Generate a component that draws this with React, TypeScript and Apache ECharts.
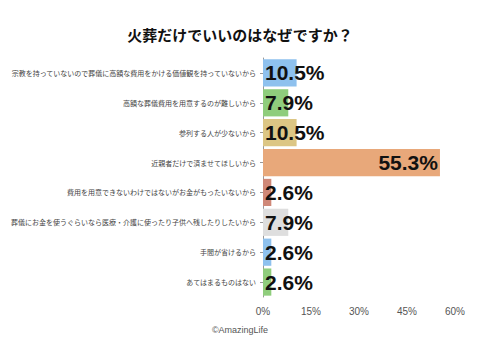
import React, { useEffect, useRef } from "react";
import * as echarts from "echarts";

const categories = [
  "宗教を持っていないので葬儀に高額な費用をかける価値観を持っていないから",
  "高額な葬儀費用を用意するのが難しいから",
  "参列する人が少ないから",
  "近親者だけで済ませてほしいから",
  "費用を用意できないわけではないがお金がもったいないから",
  "葬儀にお金を使うぐらいなら医療・介護に使ったり子供へ残したりしたいから",
  "手間が省けるから",
  "あてはまるものはない",
];
const values = [10.5, 7.9, 10.5, 55.3, 2.6, 7.9, 2.6, 2.6];
const colors = ["#8ec1ee", "#8fcd7c", "#dcc684", "#e8a87a", "#cf8878", "#dedede", "#8ec1ee", "#8fcd7c"];
const xTicks = [0, 15, 30, 45, 60];

export default function App() {
  const ref = useRef<HTMLDivElement>(null);
  useEffect(() => {
    const chart = echarts.init(ref.current!, null, { renderer: "svg" });
    chart.setOption({
      animation: false,
      backgroundColor: "#fff",
      title: {
        text: "火葬だけでいいのはなぜですか？",
        left: "center",
        top: 22,
        textStyle: { fontSize: 15, fontWeight: "bold", color: "#111", fontFamily: "Noto Sans CJK JP" },
      },
      graphic: [
        {
          type: "text",
          left: "center",
          top: 325,
          style: { text: "©AmazingLife", fontSize: 9, fill: "#555", fontFamily: "Liberation Sans" },
        },
      ],
      grid: { left: 263, right: 25, top: 58, bottom: 63 },
      xAxis: {
        type: "value",
        min: xTicks[0],
        max: xTicks[xTicks.length - 1],
        interval: 15,
        axisLine: { show: false },
        axisTick: { show: false },
        splitLine: { show: false },
        axisLabel: { formatter: "{value}%", color: "#555", fontSize: 10, margin: 9, fontFamily: "Liberation Sans" },
      },
      yAxis: {
        type: "category",
        inverse: true,
        data: categories,
        axisLine: { show: true, lineStyle: { color: "#999", width: 1 } },
        axisTick: { show: true, alignWithLabel: true, length: 3, lineStyle: { color: "#999" } },
        axisLabel: { color: "#444", fontSize: 7, margin: 7, fontFamily: "Noto Sans CJK JP" },
      },
      series: [
        {
          type: "bar",
          barCategoryGap: "9%",
          data: values.map((v, i) => ({
            value: v,
            itemStyle: { color: colors[i] },
            label: { position: v > 30 ? "insideRight" : "insideLeft" },
          })),
          label: {
            show: true,
            formatter: "{c}%",
            color: "#111",
            fontSize: 21,
            fontWeight: "bold",
            fontFamily: "Liberation Sans",
            distance: 2,
          },
        },
      ],
    });
    return () => chart.dispose();
  }, []);
  return <div ref={ref} style={{ width: 480, height: 360, position: "absolute", left: 0, top: 0 }} />;
}
